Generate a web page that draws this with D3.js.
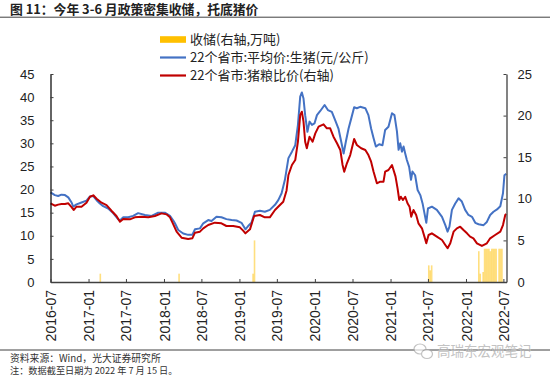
<!DOCTYPE html>
<html><head><meta charset="utf-8">
<script src="https://cdn.jsdelivr.net/npm/d3@7"></script>
<style>body{margin:0;background:#fff;} svg{display:block;}</style>
</head><body>
<svg id="c" width="550" height="376"></svg>
<script>
// ---- data ----
const priceDates = ["2016-07-01","2016-07-22","2016-08-07","2016-08-23","2016-09-09","2016-09-25","2016-10-11","2016-10-19","2016-11-04","2016-11-28","2016-12-22","2017-01-08","2017-01-24","2017-02-09","2017-02-25","2017-03-13","2017-04-06","2017-04-30","2017-05-24","2017-06-02","2017-06-18","2017-07-12","2017-08-05","2017-08-29","2017-10-01","2017-11-02","2017-12-04","2018-01-05","2018-01-30","2018-02-15","2018-02-23","2018-03-11","2018-04-04","2018-04-28","2018-05-18","2018-05-31","2018-06-24","2018-07-10","2018-08-03","2018-08-19","2018-09-12","2018-10-06","2018-10-30","2018-11-24","2018-12-18","2019-01-11","2019-01-30","2019-02-12","2019-02-28","2019-03-17","2019-04-10","2019-05-04","2019-05-28","2019-06-22","2019-07-08","2019-07-24","2019-08-09","2019-08-26","2019-09-12","2019-09-28","2019-10-11","2019-10-22","2019-10-30","2019-11-07","2019-11-15","2019-11-26","2019-12-06","2019-12-18","2019-12-30","2020-01-11","2020-01-27","2020-02-17","2020-03-04","2020-03-23","2020-04-08","2020-04-24","2020-05-11","2020-05-19","2020-05-30","2020-06-12","2020-06-25","2020-07-09","2020-07-22","2020-08-07","2020-09-01","2020-09-16","2020-09-29","2020-10-11","2020-10-22","2020-11-07","2020-11-23","2020-12-06","2020-12-22","2021-01-08","2021-01-20","2021-02-01","2021-02-09","2021-02-17","2021-02-25","2021-03-05","2021-03-13","2021-03-21","2021-04-01","2021-04-10","2021-04-17","2021-04-30","2021-05-12","2021-05-25","2021-06-05","2021-06-14","2021-06-23","2021-07-01","2021-07-20","2021-08-13","2021-09-07","2021-09-23","2021-10-04","2021-10-13","2021-10-25","2021-11-10","2021-11-26","2021-12-12","2021-12-28","2022-01-13","2022-01-30","2022-02-15","2022-03-03","2022-03-27","2022-04-12","2022-04-28","2022-05-14","2022-05-31","2022-06-16","2022-06-29","2022-07-06","2022-07-15"];
const priceValues = [19.4,18.8,18.6,18.9,18.8,18.3,17.2,16.3,16.8,17.2,17.6,18.5,18.6,17.7,17.0,16.4,15.9,14.9,13.6,13.3,14.0,14.0,14.3,14.9,14.5,14.3,15.0,15.0,14.3,13.3,12.7,11.25,10.5,10.2,10.2,11.4,11.6,12.7,13.4,13.2,14.1,14.0,13.6,13.4,13.3,12.8,11.4,12.1,12.8,15.2,15.4,15.2,15.6,16.7,17.7,19.2,22.1,26.8,28.2,29.6,34.0,40.1,41.0,39.7,36.1,32.5,34.7,34.0,34.3,36.1,37.0,38.3,37.2,36.8,35.0,33.2,29.6,27.8,30.4,33.2,35.4,37.8,37.6,37.9,37.6,36.1,33.2,31.1,29.3,29.8,29.6,32.9,33.6,36.5,36.1,32.6,28.6,30.0,28.2,29.3,27.8,26.4,24.9,22.1,23.9,23.1,19.9,18.8,17.0,14.9,12.8,15.9,16.3,15.6,14.1,12.3,10.9,12.0,15.6,17.0,18.1,17.4,15.6,14.5,14.1,12.8,12.5,12.3,13.0,14.5,15.2,15.7,16.4,19.2,23.1,23.4];

const ratioDates = ["2016-07-01","2016-07-22","2016-08-07","2016-08-23","2016-09-09","2016-09-25","2016-10-11","2016-10-21","2016-11-04","2016-11-28","2016-12-22","2017-01-08","2017-01-24","2017-02-09","2017-03-05","2017-03-29","2017-04-22","2017-05-16","2017-06-02","2017-06-18","2017-07-20","2017-08-13","2017-09-14","2017-10-17","2017-11-18","2017-12-20","2018-01-13","2018-01-30","2018-02-10","2018-03-03","2018-03-27","2018-04-28","2018-05-18","2018-05-31","2018-06-24","2018-07-10","2018-08-03","2018-09-04","2018-10-06","2018-10-30","2018-12-02","2019-01-03","2019-01-19","2019-01-30","2019-02-21","2019-03-13","2019-04-10","2019-05-04","2019-05-28","2019-06-22","2019-07-16","2019-08-01","2019-08-17","2019-08-26","2019-09-12","2019-09-28","2019-10-11","2019-10-22","2019-10-30","2019-11-07","2019-11-15","2019-11-23","2019-12-06","2019-12-21","2020-01-03","2020-01-19","2020-02-12","2020-02-28","2020-03-15","2020-03-31","2020-04-17","2020-05-03","2020-05-14","2020-05-22","2020-06-04","2020-06-20","2020-07-09","2020-07-22","2020-08-12","2020-09-01","2020-09-16","2020-09-29","2020-10-11","2020-10-27","2020-11-12","2020-11-28","2020-12-06","2020-12-22","2021-01-08","2021-01-25","2021-02-04","2021-02-12","2021-02-20","2021-03-02","2021-03-13","2021-03-24","2021-04-03","2021-04-11","2021-04-22","2021-05-05","2021-05-16","2021-06-02","2021-06-14","2021-06-23","2021-07-04","2021-07-20","2021-08-13","2021-09-07","2021-09-23","2021-10-04","2021-10-17","2021-11-02","2021-11-18","2021-12-04","2021-12-20","2022-01-06","2022-01-21","2022-02-06","2022-02-23","2022-03-19","2022-04-12","2022-04-28","2022-05-22","2022-06-16","2022-06-29","2022-07-10","2022-07-15"];
const ratioValues = [9.46,9.17,9.3,9.37,9.37,9.46,9.0,8.65,9.05,9.05,9.53,10.25,10.42,10.0,9.53,9.25,8.57,7.93,7.25,7.57,7.53,7.77,7.85,7.77,7.93,8.25,8.13,7.77,7.2,6.05,5.33,5.17,5.25,5.93,6.05,6.45,6.85,7.13,7.05,6.73,6.73,6.57,6.17,5.85,6.33,7.93,8.05,7.77,7.77,8.65,9.25,9.65,11.0,12.86,14.06,14.66,16.86,20.07,20.47,19.27,16.86,16.07,17.46,16.86,17.87,18.67,18.95,18.47,18.47,17.46,16.67,15.87,14.06,13.26,14.27,15.26,17.19,16.47,16.07,15.87,15.26,14.46,13.26,11.86,12.06,12.06,13.26,13.46,14.06,12.7,11.26,9.86,10.25,9.86,10.25,9.46,9.05,7.85,8.65,8.05,7.05,6.45,5.45,4.65,5.65,5.85,5.45,5.05,4.45,4.05,4.65,6.05,6.45,6.65,6.25,5.85,5.45,5.25,4.65,4.33,4.65,5.25,5.65,6.05,6.85,8.05,8.17];

const reserveDates = ["2017-02-27","2018-03-15","2019-03-08","2019-03-15","2021-07-05","2021-07-12","2021-07-19","2022-03-04","2022-03-11","2022-03-25","2022-04-01","2022-04-08","2022-04-15","2022-04-22","2022-04-29","2022-05-06","2022-05-13","2022-05-20","2022-05-27","2022-06-10","2022-06-17","2022-06-24"];
const reserveValues = [1.0,1.0,1.0,5.0,2.0,1.4,2.0,3.7,1.0,1.2,4.0,4.0,4.0,4.0,3.7,4.0,4.0,4.0,4.0,4.0,4.0,4.0];

const leftTicks = [0,5,10,15,20,25,30,35,40,45];
const rightTicks = [0,5,10,15,20,25];
const legendLabels = ["收储(右轴,万吨)","22个省市:平均价:生猪(元/公斤)","22个省市:猪粮比价(右轴)"];
const titleText = "图 11：今年 3-6 月政策密集收储，托底猪价";
const sourceText = "资料来源：Wind，光大证券研究所";
const noteText = "注：数据截至日期为 2022 年 7 月 15 日。";
const watermarkText = "高瑞东宏观笔记";

// ---- drawing ----
const svg = d3.select('#c');
const parse = d3.timeParse('%Y-%m-%d');
const cjk = "'Noto Sans CJK SC','Noto Sans',sans-serif";
const num = "'Liberation Sans',Arial,sans-serif";

const x = d3.scaleTime().domain([parse('2016-07-01'), parse('2022-07-16')]).range([50.5, 506.5]);
const yL = d3.scaleLinear().domain([0,45]).range([282,74]);
const yR = d3.scaleLinear().domain([0,25]).range([282,74]);

// title
svg.append('text').attr('x',10).attr('y',13.8).text(titleText)
  .style('font-family',cjk).style('font-size','12.8px').style('font-weight','bold').attr('fill','#222');
svg.append('line').attr('x1',0).attr('x2',550).attr('y1',17.2).attr('y2',17.2).attr('stroke','#404040').attr('stroke-width',1);

// bars
const bars = reserveDates.map((d,i)=>({d:parse(d), v:reserveValues[i]}));
svg.append('g').selectAll('rect').data(bars).join('rect')
  .attr('x', d=>x(d.d)-0.8).attr('width',1.6)
  .attr('y', d=>yR(d.v)).attr('height', d=>yR(0)-yR(d.v))
  .attr('fill','#FFC000').attr('fill-opacity',0.5);

// lines
const price = priceDates.map((d,i)=>({d:parse(d), v:priceValues[i]}));
const ratio = ratioDates.map((d,i)=>({d:parse(d), v:ratioValues[i]}));
svg.append('path').datum(price)
  .attr('d', d3.line().x(d=>x(d.d)).y(d=>yL(d.v)))
  .attr('fill','none').attr('stroke','#4472C4').attr('stroke-width',2).attr('stroke-linejoin','round');
svg.append('path').datum(ratio)
  .attr('d', d3.line().x(d=>x(d.d)).y(d=>yR(d.v)))
  .attr('fill','none').attr('stroke','#C00000').attr('stroke-width',2).attr('stroke-linejoin','round');

// axes
const gL = svg.append('g').attr('transform','translate(50.5,0)')
  .call(d3.axisLeft(yL).tickValues(leftTicks).tickSizeInner(-3).tickSizeOuter(0).tickPadding(16));
const gR = svg.append('g').attr('transform','translate(506.5,0)')
  .call(d3.axisRight(yR).tickValues(rightTicks).tickSizeInner(-3).tickSizeOuter(0).tickPadding(11));
const gB = svg.append('g').attr('transform','translate(0,282)')
  .call(d3.axisBottom(x).ticks(d3.timeMonth.every(6)).tickFormat(d3.timeFormat('%Y-%m')).tickSizeInner(-3).tickSizeOuter(0));
gB.selectAll('text').attr('transform','rotate(-90)').attr('x',-8).attr('y',0).attr('dy','0.36em')
  .style('text-anchor','end').style('font-size','14px');
[gL,gR,gB].forEach(g=>{
  g.selectAll('text').style('font-family',num).attr('fill','#222');
  g.select('.domain').attr('stroke','#404040').attr('stroke-width',1.3);
  g.selectAll('.tick line').attr('stroke','#404040');
});
gL.selectAll('text').style('font-size','13px');
gR.selectAll('text').style('font-size','13px');
gL.select('.domain').attr('stroke','#111');

// legend
const lg = svg.append('g');
const ly = [39.5, 57.5, 75.5];
lg.append('rect').attr('x',160).attr('y',ly[0]-3.3).attr('width',26).attr('height',6.6).attr('fill','#FFC000');
lg.append('line').attr('x1',160).attr('x2',186).attr('y1',ly[1]).attr('y2',ly[1]).attr('stroke','#4472C4').attr('stroke-width',2.2);
lg.append('line').attr('x1',160).attr('x2',186).attr('y1',ly[2]).attr('y2',ly[2]).attr('stroke','#C00000').attr('stroke-width',2.2);
legendLabels.forEach((t,i)=>{
  lg.append('text').attr('x',190).attr('y',ly[i]).attr('dy','0.36em').text(t)
    .style('font-family',cjk).style('font-size','13px').attr('fill','#222');
});

// footer
svg.append('line').attr('x1',0).attr('x2',550).attr('y1',350).attr('y2',350).attr('stroke','#404040').attr('stroke-width',1);
svg.append('text').attr('x',10).attr('y',361.5).text(sourceText)
  .style('font-family',cjk).style('font-size','9.8px').attr('fill','#333');
svg.append('text').attr('x',10).attr('y',374).text(noteText)
  .style('font-family',cjk).style('font-size','9.2px').attr('fill','#333');

// watermark
const wm = svg.append('g').attr('opacity',0.7);
wm.append('ellipse').attr('cx',420).attr('cy',349).attr('rx',6).attr('ry',5).attr('fill','#fff').attr('stroke','#aaa').attr('stroke-width',1.2);
wm.append('ellipse').attr('cx',427).attr('cy',354).attr('rx',5.5).attr('ry',4.5).attr('fill','#fff').attr('stroke','#aaa').attr('stroke-width',1.2);
wm.append('text').attr('x',437).attr('y',351.5).attr('dy','0.36em').text(watermarkText)
  .style('font-family',cjk).style('font-size','13.5px').attr('fill','#aaa')
  .attr('stroke','#fff').attr('stroke-width',0.6).attr('paint-order','stroke');
</script></body></html>
